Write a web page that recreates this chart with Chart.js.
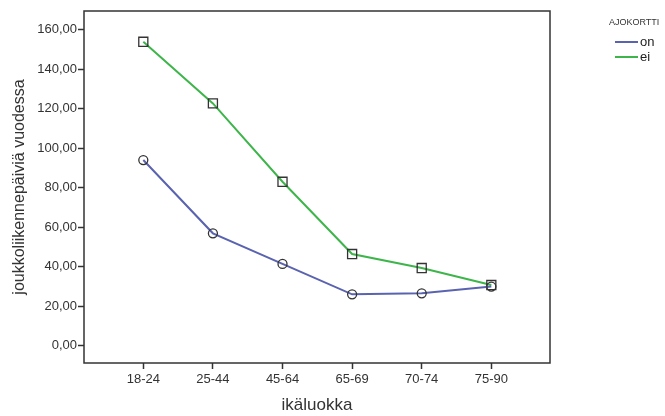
<!DOCTYPE html>
<html>
<head>
<meta charset="utf-8">
<script src="https://cdn.jsdelivr.net/npm/chart.js@4.4.1/dist/chart.umd.min.js"></script>
<style>
  html, body { margin: 0; padding: 0; background: #fff; }
  #wrap { width: 665px; height: 416px; position: relative; }
</style>
</head>
<body>
<div id="wrap"><canvas id="chart" width="665" height="416"></canvas></div>
<script>
// data
var categories = ['18-24', '25-44', '45-64', '65-69', '70-74', '75-90'];
var onValues = [94.0, 56.9, 41.4, 26.0, 26.5, 29.9];
var eiValues = [153.9, 122.7, 83.0, 46.4, 39.3, 30.7];
var yTickValues = [0, 20, 40, 60, 80, 100, 120, 140, 160];
var seriesNames = ['on', 'ei'];
var legendTitle = 'AJOKORTTI';

var FONT = '"Liberation Sans", Arial, sans-serif';
var blue = '#5a63b0';
var green = '#3db54a';

function toPoints(values) {
    return values.map(function (v, i) { return { x: i, y: v }; });
}

// frame around plot + SPSS-like legend on the right
var framePlugin = {
    id: 'frame',
    afterDraw: function (chart) {
        var ctx = chart.ctx;
        var a = chart.chartArea;
        ctx.save();
        ctx.strokeStyle = '#333';
        ctx.lineWidth = 1.5;
        ctx.strokeRect(a.left, a.top, a.right - a.left, a.bottom - a.top);

        ctx.fillStyle = '#333';
        ctx.font = '9px ' + FONT;
        ctx.textBaseline = 'middle';
        ctx.textAlign = 'left';
        ctx.fillText(legendTitle, 609, 23);

        var ds = chart.data.datasets;
        var rows = [42, 57];
        ctx.font = '13px ' + FONT;
        for (var i = 0; i < ds.length; i++) {
            ctx.strokeStyle = ds[i].borderColor;
            ctx.lineWidth = 2;
            ctx.beginPath();
            ctx.moveTo(615, rows[i]);
            ctx.lineTo(638, rows[i]);
            ctx.stroke();
            ctx.fillStyle = '#222';
            ctx.fillText(ds[i].label, 640, rows[i]);
        }
        ctx.restore();
    }
};

var ctx = document.getElementById('chart').getContext('2d');
var chart = new Chart(ctx, {
    type: 'line',
    data: {
        datasets: [{
            label: seriesNames[0],
            data: toPoints(onValues),
            borderColor: blue,
            borderWidth: 2,
            pointStyle: 'circle',
            pointRadius: 4.5,
            pointBorderColor: '#333',
            pointBackgroundColor: 'rgba(0,0,0,0)',
            pointBorderWidth: 1.3,
            tension: 0
        }, {
            label: seriesNames[1],
            data: toPoints(eiValues),
            borderColor: green,
            borderWidth: 2,
            pointStyle: 'rect',
            pointRadius: 6.4,
            pointBorderColor: '#333',
            pointBackgroundColor: 'rgba(0,0,0,0)',
            pointBorderWidth: 1.3,
            tension: 0
        }]
    },
    options: {
        responsive: false,
        animation: false,
        devicePixelRatio: 1,
        layout: { padding: { left: 0, right: 115, top: 11, bottom: 0 } },
        plugins: {
            legend: { display: false },
            tooltip: { enabled: false }
        },
        scales: {
            x: {
                type: 'linear',
                min: -0.852,
                max: 5.843,
                afterBuildTicks: function (scale) {
                    scale.ticks = categories.map(function (c, i) { return { value: i }; });
                },
                afterFit: function (scale) { scale.height = 53; },
                ticks: {
                    autoSkip: false,
                    maxRotation: 0,
                    color: '#333',
                    font: { family: FONT, size: 13 },
                    padding: 3,
                    callback: function (v) { return categories[v]; }
                },
                grid: { drawOnChartArea: false, tickLength: 6, tickColor: '#333', tickWidth: 1.5 },
                border: { display: false },
                title: {
                    display: true,
                    text: 'ikäluokka',
                    color: '#333',
                    font: { family: FONT, size: 17 },
                    padding: { top: 0, bottom: 0 }
                }
            },
            y: {
                min: -8.8,
                max: 169.5,
                afterBuildTicks: function (scale) {
                    scale.ticks = yTickValues.map(function (v) { return { value: v }; });
                },
                afterFit: function (scale) { scale.width = 84; },
                ticks: {
                    color: '#333',
                    font: { family: FONT, size: 13 },
                    padding: 1,
                    callback: function (v) { return v.toFixed(2).replace('.', ','); }
                },
                grid: { drawOnChartArea: false, tickLength: 6, tickColor: '#333', tickWidth: 1.5 },
                border: { display: false },
                title: {
                    display: true,
                    text: 'joukkoliikennepäiviä vuodessa',
                    color: '#333',
                    font: { family: FONT, size: 16 },
                    padding: { top: 10, bottom: 0 }
                }
            }
        }
    },
    plugins: [framePlugin]
});
</script>
</body>
</html>
